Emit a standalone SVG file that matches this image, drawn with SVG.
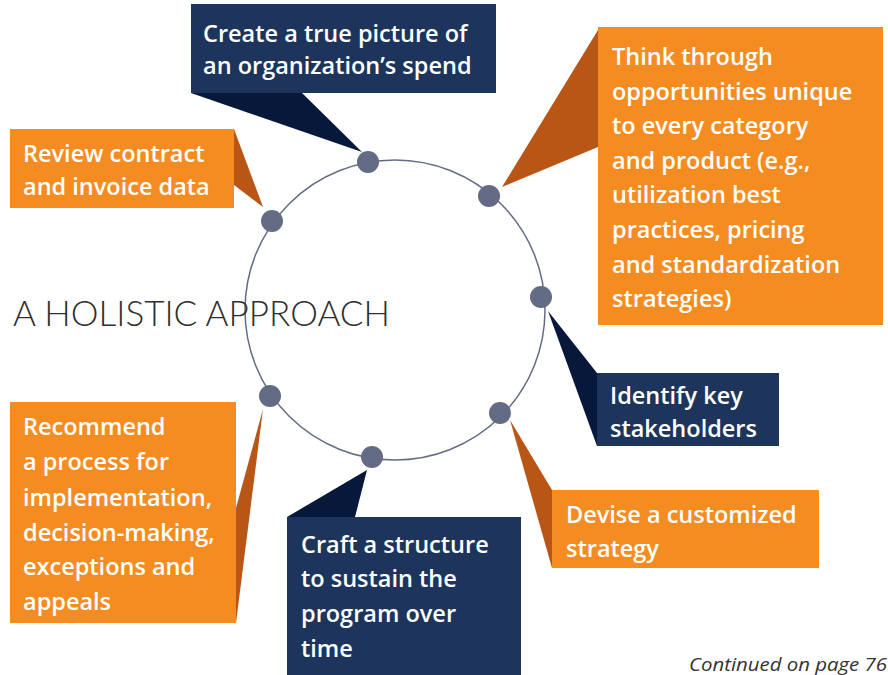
<svg xmlns="http://www.w3.org/2000/svg" width="888" height="675" viewBox="0 0 888 675">
<style>
.navy{fill:#1d355d}
.navyTail{fill:#08183a}
.orange{fill:#f58c22}
.orangeTail{fill:#b95615}
.lbl{font-family:"Open Sans","Liberation Sans",sans-serif;font-weight:600;font-size:23.5px;fill:#ffffff}
.dot{fill:#646b85}
.title{font-family:Lato,"Liberation Sans",sans-serif;font-weight:300;font-size:35px;fill:#2e2e2e}
.note{font-family:"Open Sans","Liberation Sans",sans-serif;font-style:italic;font-size:18.5px;fill:#333333}
</style>
<g id="ring">
<circle cx="395" cy="310" r="150" fill="none" stroke="#646b85" stroke-width="1.5"/>
</g>
<text class="title" x="13" y="326" textLength="377" lengthAdjust="spacingAndGlyphs">A HOLISTIC APPROACH</text>
<g id="connectors">
<polygon class="navyTail" points="191,93 302,93 362,152"/>
<polygon class="orangeTail" points="598,30 598,147 502,187"/>
<polygon class="orangeTail" points="234,129 234,185 263,207"/>
<polygon class="navyTail" points="548,311 597,373 597,446"/>
<polygon class="orangeTail" points="510,420 552,490 552,568"/>
<polygon class="orangeTail" points="263,409 236,508 236,623"/>
<polygon class="navyTail" points="367,470 287,517 355,517"/>
</g>
<g id="node-spend">
<rect class="navy" x="191" y="4" width="305" height="89"/>
<text class="lbl" x="203" y="42">Create a true picture of</text>
<text class="lbl" x="203" y="74">an organization’s spend</text>
</g>
<g id="node-think">
<rect class="orange" x="598" y="27" width="285" height="298"/>
<text class="lbl" x="612" y="65">Think through</text>
<text class="lbl" x="612" y="100">opportunities unique</text>
<text class="lbl" x="612" y="134">to every category</text>
<text class="lbl" x="612" y="169">and product (e.g.,</text>
<text class="lbl" x="612" y="203">utilization best</text>
<text class="lbl" x="612" y="238">practices, pricing</text>
<text class="lbl" x="612" y="273">and standardization</text>
<text class="lbl" x="612" y="307">strategies)</text>
</g>
<g id="node-review">
<rect class="orange" x="10" y="129" width="224" height="79"/>
<text class="lbl" x="23" y="162">Review contract</text>
<text class="lbl" x="23" y="195">and invoice data</text>
</g>
<g id="node-identify">
<rect class="navy" x="597" y="373" width="182" height="73"/>
<text class="lbl" x="610" y="404">Identify key</text>
<text class="lbl" x="610" y="437">stakeholders</text>
</g>
<g id="node-devise">
<rect class="orange" x="552" y="490" width="267" height="78"/>
<text class="lbl" x="566" y="523">Devise a customized</text>
<text class="lbl" x="566" y="557">strategy</text>
</g>
<g id="node-recommend">
<rect class="orange" x="10" y="402" width="226" height="221"/>
<text class="lbl" x="23" y="435">Recommend</text>
<text class="lbl" x="23" y="470">a process for</text>
<text class="lbl" x="23" y="506">implementation,</text>
<text class="lbl" x="23" y="541">decision-making,</text>
<text class="lbl" x="23" y="575">exceptions and</text>
<text class="lbl" x="23" y="610">appeals</text>
</g>
<g id="node-craft">
<rect class="navy" x="287" y="517" width="234" height="158"/>
<text class="lbl" x="301" y="553">Craft a structure</text>
<text class="lbl" x="301" y="587">to sustain the</text>
<text class="lbl" x="301" y="622">program over</text>
<text class="lbl" x="301" y="657">time</text>
</g>
<g id="dots">
<circle class="dot" cx="368" cy="162" r="11"/>
<circle class="dot" cx="489" cy="196" r="11"/>
<circle class="dot" cx="541" cy="297" r="11"/>
<circle class="dot" cx="500" cy="413" r="11"/>
<circle class="dot" cx="372" cy="457" r="11"/>
<circle class="dot" cx="270" cy="396" r="11"/>
<circle class="dot" cx="272" cy="221" r="11"/>
</g>
<text class="note" x="689" y="671" textLength="198" lengthAdjust="spacingAndGlyphs">Continued on page 76</text>
</svg>
